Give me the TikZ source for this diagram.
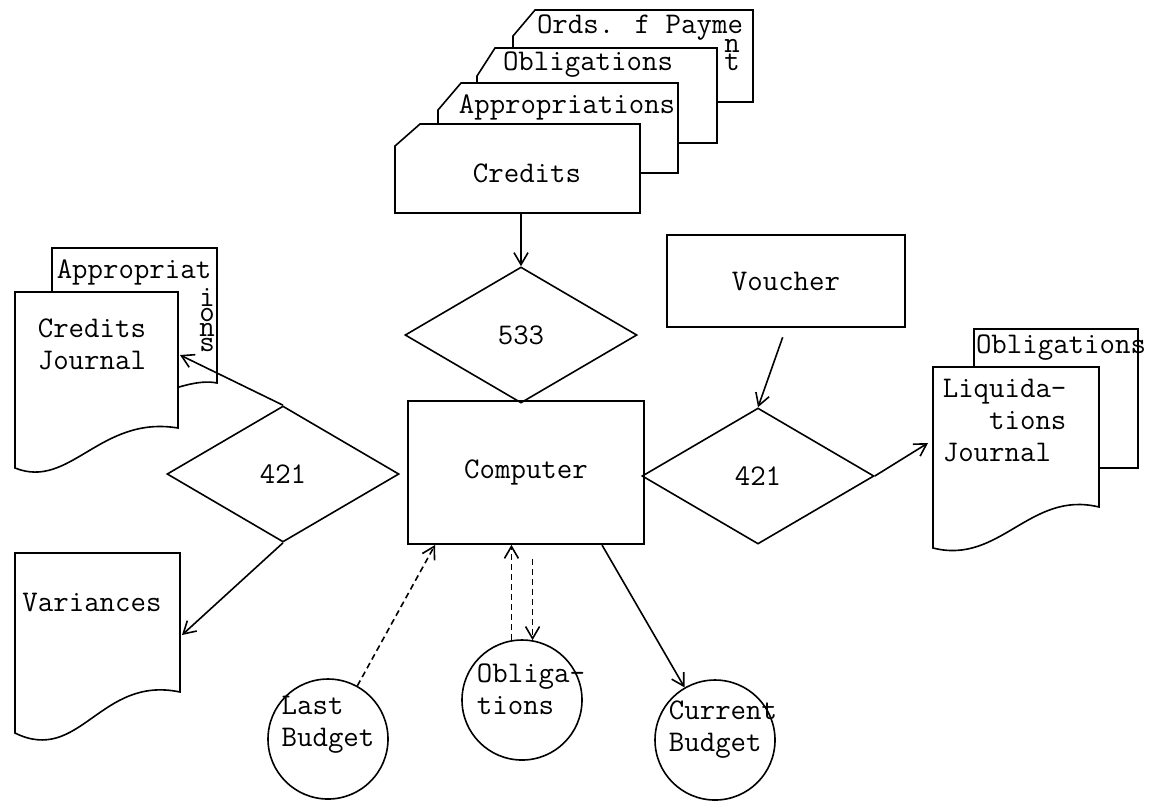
\documentclass[tikz,border=0pt]{standalone}
\usepackage{fontspec}
\usepackage{tikz}
\usetikzlibrary{arrows.meta,shapes.geometric}

\begin{document}
\begin{tikzpicture}[
    x=0.5pt, y=-0.5pt,
    line width=0.8pt,
    txt/.style={inner sep=0pt, font=\fontsize{15}{16}\selectfont\ttfamily},
    stack/.style={inner sep=0pt, align=center, font=\fontsize{15}{7.5}\selectfont\ttfamily},
    card/.style={draw, fill=white},
    doc/.style={draw, fill=white},
    box/.style={draw, rectangle, inner sep=0pt, txt},
    gate/.style={draw, diamond, inner sep=0pt, minimum width=116pt,
    minimum height=68pt, txt},
    disk/.style={draw, circle, inner sep=0pt, minimum size=60pt},
    arr/.style={-{Straight Barb[length=6pt,width=7pt]}},
    darr/.style={arr, densely dashed}
]
\useasboundingbox (0,0) rectangle (1154,800);

% input cards, back to front
\draw[card] (535,10) -- (753,10) -- (753,102) -- (513,102) -- (513,36) -- cycle;
\draw[card] (495,48) -- (717,48) -- (717,143) -- (477,143) -- (477,76) -- cycle;
\draw[card] (461,83) -- (678,83) -- (678,173) -- (438,173) -- (438,110) -- cycle;
\draw[card] (420,124) -- (640,124) -- (640,213) -- (395,213) -- (395,146) -- cycle;
\node[txt] (ordstxt) at (640,28) {Ords. f Payme};
\node[stack] (ordsend) at (732,55) {n\\t};
\node[txt] (oblctxt) at (588,65) {Obligations};
\node[txt] (appctxt) at (567,107) {Appropriations};
\node[txt] (credtxt) at (527,173) {Credits};
\coordinate (credout) at (521,213);

% processing
\node[gate] (chk) at (521,335) {533};
\node[box, minimum width=118pt, minimum height=71.5pt] (comp) at (526,472.5) {Computer};
\node[gate] (prtl) at (283,474) {421};
\node[gate] (prtr) at (758,476) {421};
\node[box, minimum width=119pt, minimum height=46pt] (vouch) at (786,281) {Voucher};
\draw[arr] (credout) -- (chk.north);
\draw[arr, shorten <=5pt] (vouch.south) -- (prtr.north);

% credits journal
\draw[doc] (52,415) -- (52,248) -- (217,248) -- (217,383)
    .. controls (180,375) and (120,420) .. (52,415) -- cycle;
\draw[doc] (15,468) -- (15,292) -- (178,292) -- (178,428)
    .. controls (100,415) and (70,490) .. (15,468) -- cycle;
\node[txt, anchor=west, align=left] (cjtxt) at (37,344) {Credits\\Journal};
\node[txt] (apptxt) at (134,272) {Appropriat};
\node[stack] (append) at (207,320) {i\\o\\n\\s};
\coordinate (cjin) at (180,355);
\draw[arr] (prtl.north) -- (cjin);

% variances
\draw[doc] (15,733) -- (15,553) -- (180,553) -- (180,692)
    .. controls (100,675) and (80,765) .. (15,733) -- cycle;
\node[txt] (vartxt) at (92,602) {Variances};
\coordinate (varin) at (182,635);
\draw[arr] (prtl.south) -- (varin);

% liquidations journal
\draw[doc] (974,468) -- (974,329) -- (1138,329) -- (1138,468) -- cycle;
\draw[doc] (933,548) -- (933,367) -- (1099,367) -- (1099,507)
    .. controls (1030,490) and (1000,565) .. (933,548) -- cycle;
\node[txt] (obltxt) at (1061,348) {Obligations};
\node[txt, anchor=west, align=left] (ljtxt) at (942,420) {Liquida-\\\phantom{Liq}tions\\Journal};
\coordinate (ljin) at (928,443);
\draw[arr] (prtr.east) -- (ljin);

% files
\node[disk] (lastb) at (328,739) {};
\node[txt, align=left] (lastbtxt) at (328,725) {Last\\Budget};
\node[disk] (oblf) at (522,700) {};
\node[txt, align=left] (obltxtf) at (531,689) {Obliga-\\tions};
\node[disk] (curb) at (715,740) {};
\node[txt, align=left] (curbtxt) at (723,730) {Current\\Budget};
\coordinate (cin) at (435,545);
\coordinate (cout) at (602,545);
\draw[darr] (lastb) -- (cin);
\draw[darr] (oblf.100) -- (oblf.100 |- comp.south);
\draw[darr, shorten <=7pt] (oblf.80 |- comp.south) -- (oblf.80);
\draw[arr] (cout) -- (curb);
\end{tikzpicture}
\end{document}
